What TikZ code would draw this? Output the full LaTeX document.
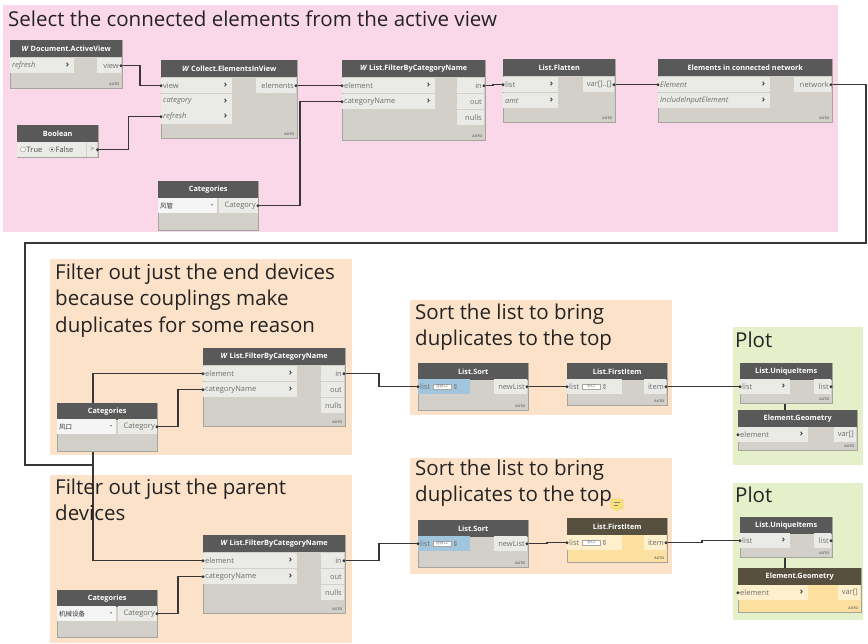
\documentclass[tikz,border=0pt]{standalone}
\usepackage{fontspec}
\setmainfont{Open Sans}
\newfontfamily\cjk{Noto Sans CJK SC}
\newfontfamily\dejavu{DejaVu Sans}
\usetikzlibrary{calc}
\pgfdeclarelayer{bg}\pgfdeclarelayer{wires}
\pgfsetlayers{bg,wires,main}
\definecolor{pinkbg}{RGB}{250,216,234}
\definecolor{peachbg}{RGB}{253,226,202}
\definecolor{greenbg}{RGB}{229,240,202}
\definecolor{titlecol}{RGB}{35,35,35}
\definecolor{headcol}{RGB}{89,89,89}
\definecolor{bodycol}{RGB}{210,208,201}
\definecolor{portcol}{RGB}{234,234,231}
\definecolor{edgecol}{RGB}{165,165,160}
\definecolor{selhead}{RGB}{88,80,62}
\definecolor{selbody}{RGB}{252,224,160}
\definecolor{selport}{RGB}{254,239,205}
\definecolor{blueport}{RGB}{162,197,222}
\definecolor{porttxt}{RGB}{110,110,110}
\definecolor{wirecol}{RGB}{55,55,55}
\definecolor{notefill}{RGB}{250,225,120}
\definecolor{noteedge}{RGB}{215,185,80}
\newcommand{\DynNode}[7][]{%
  \node[nbody#1, minimum width=#5pt, minimum height=#6pt] (#2) at (#3,#4) {};
  \node[nhead#1, minimum width=#5pt] (#2-h) at (#2.north west) {#7};}
\newcommand{\DynAuto}[1]{\node[autotxt] (#1-a) at ([xshift=-3pt,yshift=2.5pt]#1.south east) {AUTO};}
\newcommand{\InP}[6][]{%
  \node[inport#1, minimum width=#5pt] (#2) at (#3,#4) {};
  \node[ptxt, anchor=west] (#2-t) at ([xshift=2pt]#2.west) {#6};
  \node[chev, anchor=east] (#2-c) at ([xshift=-5pt]#2.east) {›};}
\newcommand{\OutP}[6][]{%
  \node[outport#1, minimum width=#5pt] (#2) at (#3,#4) {};
  \node[ptxt, anchor=east] (#2-t) at ([xshift=-2pt]#2.east) {#6};}
\newcommand{\Spin}[4]{% name, parent port, xshift, text
  \node[spinbox] (#1) at ([xshift=#3pt]#2.west) {#4};
  \node[inner sep=0pt, anchor=west, font=\dejavu\fontsize{7}{7}\selectfont, text=porttxt] (#1-ic) at ([xshift=1pt]#1.east) {⇕};}
\begin{document}
\begin{tikzpicture}[x=1pt,y=-1pt,
  reg/.style={anchor=north west, inner sep=0pt, outer sep=0pt, draw=none},
  ttl/.style={anchor=base west, inner sep=0pt, font=\fontsize{20.5}{24}\selectfont, text=titlecol},
  nbody/.style={anchor=north west, inner sep=0pt, fill=bodycol, draw=edgecol, line width=0.4pt},
  nbodysel/.style={nbody, fill=selbody},
  nhead/.style={anchor=north west, inner sep=0pt, minimum height=17pt, fill=headcol, text=white, font=\bfseries\fontsize{7.3}{8}\selectfont},
  nheadsel/.style={nhead, fill=selhead},
  inport/.style={anchor=north west, inner sep=0pt, minimum height=15pt, fill=portcol},
  inportsel/.style={inport, fill=selport},
  inportblue/.style={inport, fill=blueport},
  outport/.style={anchor=north east, inner sep=0pt, minimum height=15pt, fill=portcol},
  outportsel/.style={outport, fill=selport},
  ptxt/.style={inner sep=0pt, text=porttxt, font=\fontsize{7.5}{8}\selectfont},
  chev/.style={inner sep=0pt, text=black!75, font=\bfseries\fontsize{9}{9}\selectfont},
  autotxt/.style={anchor=south east, inner sep=0pt, font=\bfseries\fontsize{3.5}{4}\selectfont, text=black!55},
  spinbox/.style={anchor=west, inner sep=0.8pt, fill=white, draw=black!35, line width=0.3pt, minimum width=18pt, font=\fontsize{4}{4}\selectfont, text=black!60},
  radio/.style={circle, draw=black!45, fill=white, minimum size=5pt, inner sep=0pt, line width=0.4pt},
  dd/.style={anchor=north west, inner sep=0pt, minimum height=15pt, fill=white!92!gray},
  wire/.style={draw=wirecol, line width=1.4pt},
]
\useasboundingbox (0,0) rectangle (868,643);
% ---------------- regions ----------------
\begin{pgfonlayer}{bg}
\node[reg, fill=pinkbg, minimum width=835pt, minimum height=227pt] (rP) at (3,5) {};
\node[reg, fill=peachbg, minimum width=302pt, minimum height=196pt] (rA) at (50,259) {};
\node[reg, fill=peachbg, minimum width=302pt, minimum height=168pt] (rB) at (50,475) {};
\node[reg, fill=peachbg, minimum width=262pt, minimum height=115pt] (rC) at (410,300) {};
\node[reg, fill=peachbg, minimum width=262pt, minimum height=116pt] (rD) at (410,458) {};
\node[reg, fill=greenbg, minimum width=130pt, minimum height=138pt] (rE) at (733,327) {};
\node[reg, fill=greenbg, minimum width=130pt, minimum height=137pt] (rF) at (733,483) {};
\end{pgfonlayer}
% ---------------- titles ----------------
\node[ttl] (tP) at (8,26.5) {Select the connected elements from the active view};
\node[ttl] (tA1) at (55,279) {Filter out just the end devices};
\node[ttl] (tA2) at (55,305.5) {because couplings make};
\node[ttl] (tA3) at (55,332) {duplicates for some reason};
\node[ttl] (tB1) at (55,494) {Filter out just the parent};
\node[ttl] (tB2) at (55,520) {devices};
\node[ttl] (tC1) at (415,319) {Sort the list to bring};
\node[ttl] (tC2) at (415,345) {duplicates to the top};
\node[ttl] (tD1) at (415,475) {Sort the list to bring};
\node[ttl] (tD2) at (415,501) {duplicates to the top};
\node[ttl] (tE) at (735,347) {Plot};
\node[ttl] (tF) at (735,502) {Plot};
% note bubble
\node[fill=notefill, draw=noteedge, line width=0.3pt, rounded corners=1.5pt, minimum width=12pt, minimum height=10pt, inner sep=0pt] (note) at (617,504) {};
\draw[black!50, line width=0.5pt] ([xshift=-3pt,yshift=1.5pt]note.center) -- ++(6,0) ([xshift=-3pt,yshift=-1pt]note.center) -- ++(4,0);
\fill[notefill] ([xshift=-2pt]note.south) -- ([xshift=2pt]note.south) -- ([yshift=-3pt]note.south) -- cycle;
% ---------------- top row ----------------
\DynNode{av}{10}{40}{112}{48}{\textit{W} Document.ActiveView}
\InP{av-i1}{10}{58}{64}{\textit{refresh}}
\OutP{av-o1}{121}{58}{24}{view}
\DynAuto{av}
\DynNode{ce}{161}{60}{136}{78}{\textit{W} Collect.ElementsInView}
\InP{ce-i1}{161}{78}{71}{view}
\InP{ce-i2}{161}{93.5}{71}{\textit{category}}
\InP{ce-i3}{161}{109}{71}{\textit{refresh}}
\OutP{ce-o1}{296}{78}{40}{elements}
\DynAuto{ce}
\DynNode{bo}{17}{125}{81}{32}{Boolean}
\node[inport, minimum width=69pt] (bo-r) at (17,142) {};
\node[radio] (bo-t) at (23,149.5) {};
\node[ptxt, anchor=west, text=black!70] (bo-tt) at (26.5,149.5) {True};
\node[radio] (bo-f) at (52,149.5) {};
\node[circle, fill=black!75, minimum size=2.2pt, inner sep=0pt] (bo-fd) at (bo-f) {};
\node[ptxt, anchor=west, text=black!70] (bo-ft) at (55.5,149.5) {False};
\node[outport, minimum width=10pt] (bo-o) at (97.5,142) {};
\node[ptxt] (bo-ot) at (bo-o) {>};
\DynNode{ca}{158}{181}{100}{49}{Categories}
\node[dd, minimum width=59pt] (ca-dd) at (158,198) {};
\node[ptxt, anchor=west, text=black!80, font=\cjk\fontsize{6.5}{7}\selectfont] (ca-ddt) at ([xshift=2pt]ca-dd.west) {风管};
\node[ptxt, anchor=east, font=\dejavu\fontsize{4}{4}\selectfont] (ca-dda) at ([xshift=-4pt]ca-dd.east) {▾};
\OutP{ca-o}{258}{198}{39}{Category}
\DynNode{fc1}{342}{60}{143}{80}{\textit{W} List.FilterByCategoryName}
\InP{fc1-i1}{342}{78}{93}{element}
\InP{fc1-i2}{342}{94}{93}{categoryName}
\OutP{fc1-o1}{484}{78}{27}{in}
\OutP{fc1-o2}{484}{94}{27}{out}
\OutP{fc1-o3}{484}{110}{27}{nulls}
\DynAuto{fc1}
\DynNode{lf}{503}{59}{112}{63}{List.Flatten}
\InP{lf-i1}{503}{77}{55}{list}
\InP{lf-i2}{503}{93}{55}{\textit{amt}}
\OutP{lf-o1}{614}{77}{31}{var[]..[]}
\DynAuto{lf}
\DynNode{en}{658}{59}{174}{63}{Elements in connected network}
\InP{en-i1}{658}{77}{112}{\textit{Element}}
\InP{en-i2}{658}{93}{112}{\textit{IncludeInputElement}}
\OutP{en-o1}{831}{77}{37}{network}
\DynAuto{en}
% ---------------- middle row ----------------
\DynNode{fc2}{203}{348}{142}{78}{\textit{W} List.FilterByCategoryName}
\InP{fc2-i1}{203}{366}{94}{element}
\InP{fc2-i2}{203}{382}{94}{categoryName}
\OutP{fc2-o1}{344}{366}{23}{in}
\OutP{fc2-o2}{344}{382}{23}{out}
\OutP{fc2-o3}{344}{398}{23}{nulls}
\DynAuto{fc2}
\DynNode{ca2}{57}{403}{100}{48}{Categories}
\node[dd, minimum width=59pt] (ca2-dd) at (57,419) {};
\node[ptxt, anchor=west, text=black!80, font=\cjk\fontsize{6.5}{7}\selectfont] (ca2-ddt) at ([xshift=2pt]ca2-dd.west) {风口};
\node[ptxt, anchor=east, font=\dejavu\fontsize{4}{4}\selectfont] (ca2-dda) at ([xshift=-4pt]ca2-dd.east) {▾};
\OutP{ca2-o}{157}{419}{39}{Category}
\DynNode{ls1}{418}{363}{110}{47}{List.Sort}
\node[inportblue, minimum width=52pt] (ls1-i) at (418,379) {};
\node[ptxt, anchor=west] (ls1-it) at ([xshift=2pt]ls1-i.west) {list};
\Spin{ls1-s}{ls1-i}{15}{@@L2}
\OutP{ls1-o}{527}{379}{33}{newList}
\DynAuto{ls1}
\DynNode{fi1}{567}{363}{100}{42}{List.FirstItem}
\node[inport, minimum width=55pt] (fi1-i) at (567,379) {};
\node[ptxt, anchor=west] (fi1-it) at ([xshift=2pt]fi1-i.west) {list};
\Spin{fi1-s}{fi1-i}{15}{@L2}
\OutP{fi1-o}{666}{379}{22}{item}
\DynAuto{fi1}
\DynNode{ui1}{740}{363}{92}{40}{List.UniqueItems}
\InP{ui1-i}{740}{379}{50}{list}
\OutP{ui1-o}{831}{379}{17}{list}
\DynAuto{ui1}
\DynNode{eg1}{738}{410}{119}{40}{Element.Geometry}
\InP{eg1-i}{738}{427}{70}{element}
\OutP{eg1-o}{856}{427}{22}{var[]}
\DynAuto{eg1}
% ---------------- bottom row ----------------
\DynNode{fc3}{203}{535}{142}{78}{\textit{W} List.FilterByCategoryName}
\InP{fc3-i1}{203}{553}{94}{element}
\InP{fc3-i2}{203}{569}{94}{categoryName}
\OutP{fc3-o1}{344}{553}{23}{in}
\OutP{fc3-o2}{344}{569}{23}{out}
\OutP{fc3-o3}{344}{585}{23}{nulls}
\DynAuto{fc3}
\DynNode{ca3}{57}{590}{100}{47}{Categories}
\node[dd, minimum width=59pt] (ca3-dd) at (57,606) {};
\node[ptxt, anchor=west, text=black!80, font=\cjk\fontsize{6.5}{7}\selectfont] (ca3-ddt) at ([xshift=2pt]ca3-dd.west) {机械设备};
\node[ptxt, anchor=east, font=\dejavu\fontsize{4}{4}\selectfont] (ca3-dda) at ([xshift=-4pt]ca3-dd.east) {▾};
\OutP{ca3-o}{157}{606}{39}{Category}
\DynNode{ls2}{418}{520}{110}{47}{List.Sort}
\node[inportblue, minimum width=52pt] (ls2-i) at (418,536) {};
\node[ptxt, anchor=west] (ls2-it) at ([xshift=2pt]ls2-i.west) {list};
\Spin{ls2-s}{ls2-i}{15}{@@L2}
\OutP{ls2-o}{527}{536}{33}{newList}
\DynAuto{ls2}
\DynNode[sel]{fi2}{567}{518}{100}{44}{List.FirstItem}
\node[inportsel, minimum width=55pt] (fi2-i) at (567,535) {};
\node[ptxt, anchor=west] (fi2-it) at ([xshift=2pt]fi2-i.west) {list};
\Spin{fi2-s}{fi2-i}{15}{@L2}
\OutP[sel]{fi2-o}{666}{535}{22}{item}
\DynAuto{fi2}
\DynNode{ui2}{740}{517}{92}{40}{List.UniqueItems}
\InP{ui2-i}{740}{533}{50}{list}
\OutP{ui2-o}{831}{533}{17}{list}
\DynAuto{ui2}
\DynNode[sel]{eg2}{738}{568}{123}{44}{Element.Geometry}
\InP[sel]{eg2-i}{738}{585}{70}{element}
\OutP[sel]{eg2-o}{860}{585}{22}{var[]}
\DynAuto{eg2}
% ---------------- wires ----------------
\coordinate (k1) at (866,243);
\coordinate (k2) at (25,465);
\coordinate (jn) at (93,465);
\coordinate (t1) at (785,400);
\coordinate (t2) at (785,560);
\begin{pgfonlayer}{wires}
\draw[wire] (av-o1.east) -- ++(19,0) |- (ce-i1.west);
\draw[wire] (bo-o.east) -- ++(31,0) |- (ce-i3.west);
\draw[wire] (ce-o1.east) -- ++(23,0) |- (fc1-i1.west);
\draw[wire] (ca-o.east) -- ++(42,0) |- (fc1-i2.west);
\draw[wire] (fc1-o1.east) -- ++(9,0) |- (lf-i1.west);
\draw[wire] (lf-o1.east) -- (en-i1.west);
\draw[wire] (en-o1.east) -| (k1) -| (k2) -- (jn) |- (fc2-i1.west);
\draw[wire] (jn) |- (fc3-i1.west);
\draw[wire] (ca2-o.east) -- ++(21,0) |- (fc2-i2.west);
\draw[wire] (ca3-o.east) -- ++(21,0) |- (fc3-i2.west);
\draw[wire] (fc2-o1.east) -- ++(35,0) |- (ls1-i.west);
\draw[wire] (ls1-o.east) -- ++(20,0) |- (fi1-i.west);
\draw[wire] (fi1-o.east) -- ++(36,0) |- (ui1-i.west);
\draw[wire] (ui1-o.east) -| (t1) |- (eg1-i.west);
\draw[wire] (fc3-o1.east) -- ++(35,0) |- (ls2-i.west);
\draw[wire] (ls2-o.east) -- ++(20,0) |- (fi2-i.west);
\draw[wire] (fi2-o.east) -- ++(36,0) |- (ui2-i.west);
\draw[wire] (ui2-o.east) -| (t2) |- (eg2-i.west);
\end{pgfonlayer}
% port dots
\foreach \p in {av-o1,bo-o,ce-o1,ca-o,fc1-o1,lf-o1,en-o1,ca2-o,ca3-o,fc2-o1,fc3-o1,ls1-o,ls2-o,fi1-o,fi2-o,ui1-o,ui2-o}
  \fill[wirecol] (\p.east) circle (1.6pt);
\foreach \p in {ce-i1,ce-i3,fc1-i1,fc1-i2,lf-i1,en-i1,fc2-i1,fc2-i2,fc3-i1,fc3-i2,ls1-i,ls2-i,fi1-i,fi2-i,ui1-i,ui2-i,eg1-i,eg2-i}
  \fill[wirecol] (\p.west) circle (1.6pt);
\end{tikzpicture}
\end{document}
